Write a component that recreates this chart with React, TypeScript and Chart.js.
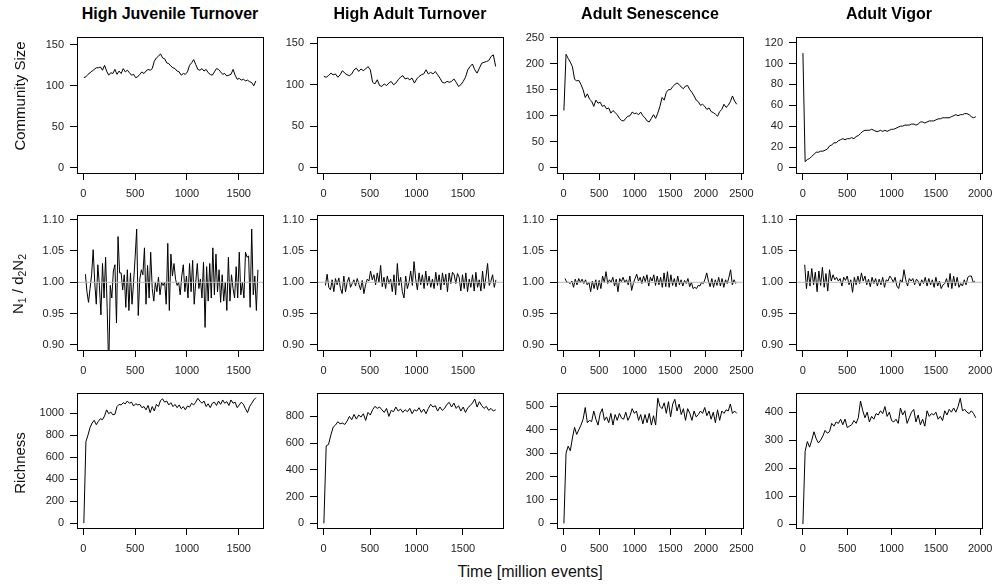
import React, { useEffect, useRef } from "react";
import { Chart, registerables } from "chart.js";
Chart.register(...registerables);

const FONT = '"Liberation Sans", Arial, Helvetica, sans-serif';
Chart.defaults.font.family = FONT;

// ---------- labels ----------
const colTitles = ["High Juvenile Turnover", "High Adult Turnover", "Adult Senescence", "Adult Vigor"];
const xAxisTitle = "Time [million events]";

// ---------- tick values ----------
const xTicksA = [0, 500, 1000, 1500];
const xTicksSen = [0, 500, 1000, 1500, 2000, 2500];
const xTicksVig = [0, 500, 1000, 1500, 2000];
const yTicksSize = [0, 50, 100, 150];
const yTicksSizeSen = [0, 50, 100, 150, 200, 250];
const yTicksSizeVig = [0, 20, 40, 60, 80, 100, 120];
const yTicksRatio = [0.9, 0.95, 1.0, 1.05, 1.1];
const yTicksRichHJT = [0, 200, 400, 600, 800, 1000];
const yTicksRichHAT = [0, 200, 400, 600, 800];
const yTicksRichSen = [0, 100, 200, 300, 400, 500];
const yTicksRichVig = [0, 100, 200, 300, 400];

// ---------- time sampling (start, step) ----------
const timeHJT = { start: 5, step: 20 };
const timeHAT = { start: 3, step: 25 };
const timeSen = { start: 4, step: 30 };
const timeVig = { start: 0, step: 25 };
const timeRatioHJT = { start: 20, step: 15 };
const timeRatioHAT = { start: 20, step: 18 };
const timeRatioSen = { start: 20, step: 24 };
const timeRatioVig = { start: 20, step: 20 };

// ---------- Community size ----------
const sizeHJT = [110, 111, 114, 116, 118, 120, 122, 122, 123, 119, 125, 118, 113, 116, 115, 120, 114, 118, 115, 121,
  117, 119, 116, 113, 114, 110, 111, 114, 117, 115, 118, 120, 119, 121, 130, 134, 136, 139, 134, 133,
  128, 127, 124, 122, 121, 118, 117, 113, 115, 114, 117, 125, 128, 132, 126, 120, 119, 121, 118, 120,
  116, 114, 113, 117, 121, 120, 117, 114, 115, 112, 113, 114, 120, 113, 108, 109, 107, 108, 106, 107,
  105, 104, 100, 106];
const sizeHAT = [110, 109, 111, 114, 112, 113, 109, 112, 117, 114, 112, 111, 113, 118, 120, 116, 119, 117, 119, 122,
  118, 103, 101, 106, 99, 98, 101, 99, 102, 104, 100, 102, 106, 109, 111, 107, 108, 106, 108, 102,
  107, 110, 112, 113, 118, 113, 115, 113, 116, 112, 108, 103, 102, 104, 103, 104, 107, 103, 98, 100,
  104, 109, 118, 122, 125, 118, 114, 120, 126, 127, 128, 129, 134, 136, 122];
const sizeSen = [110, 218, 210, 203, 194, 170, 167, 168, 160, 150, 135, 142, 132, 128, 118, 130, 124, 126, 118, 120,
  113, 115, 105, 110, 106, 102, 95, 91, 90, 95, 99, 100, 107, 104, 105, 102, 107, 100, 96, 90,
  88, 95, 102, 95, 105, 118, 135, 130, 145, 150, 150, 156, 160, 163, 160, 155, 152, 157, 158, 150,
  145, 138, 130, 127, 120, 122, 118, 112, 115, 108, 106, 103, 99, 108, 112, 122, 116, 120, 127, 138,
  128, 122];
const sizeVig = [110, 6, 8, 9, 11, 13, 15, 15, 16, 16, 17, 18, 21, 22, 24, 24, 26, 27, 28, 27,
  28, 28, 29, 28, 30, 31, 33, 35, 36, 36, 36, 37, 36, 35, 35, 36, 35, 36, 35, 36,
  37, 37, 38, 39, 40, 40, 41, 41, 41, 42, 42, 41, 42, 44, 44, 43, 44, 45, 45, 45,
  46, 47, 47, 48, 48, 48, 48, 49, 50, 51, 50, 51, 51, 52, 52, 51, 49, 48, 49];

// ---------- N1 / d2N2 ----------
const ratioHJT = [1.013, 0.985, 0.968, 0.990, 1.012, 1.052, 1.000, 0.965, 1.028, 0.995,
  0.948, 1.030, 0.975, 1.040, 0.960, 0.860, 0.995, 0.975, 1.018, 1.028,
  0.935, 1.073, 1.015, 1.015, 0.988, 1.012, 0.960, 1.020, 0.955, 1.015,
  0.965, 1.000, 1.040, 1.085, 0.947, 1.005, 1.020, 1.012, 1.055, 0.965,
  1.027, 0.975, 1.048, 0.990, 0.970, 1.000, 0.985, 1.008, 0.980, 1.000,
  0.995, 1.000, 0.965, 1.062, 0.955, 1.045, 1.010, 1.030, 1.005, 0.995,
  1.000, 0.980, 1.010, 1.028, 0.985, 1.010, 0.975, 1.030, 0.985, 1.035,
  0.965, 1.000, 1.030, 0.990, 1.005, 0.975, 1.032, 0.928, 1.025, 0.970,
  1.030, 0.975, 1.055, 0.980, 1.045, 0.985, 1.020, 0.968, 1.012, 0.970,
  1.000, 0.955, 1.040, 0.970, 1.012, 0.990, 0.975, 1.025, 0.975, 1.048,
  0.980, 1.000, 0.975, 1.048, 1.040, 1.042, 0.960, 1.085, 0.980, 1.010,
  0.955, 1.020];
const ratioHAT = [0.995, 1.013, 0.992, 0.988, 1.004, 0.985, 1.006, 0.996, 1.007, 0.990,
  0.982, 1.010, 0.985, 1.000, 1.008, 0.992, 0.998, 1.004, 0.994, 1.006,
  0.997, 0.988, 1.003, 0.982, 0.996, 1.005, 1.002, 1.018, 1.004, 1.012,
  0.996, 1.015, 1.000, 1.027, 0.993, 1.008, 0.990, 1.010, 0.998, 1.005,
  0.985, 1.012, 0.980, 1.030, 0.995, 1.008, 0.985, 0.975, 1.010, 0.990,
  1.000, 1.018, 0.995, 1.033, 1.005, 0.988, 1.015, 0.996, 1.012, 0.990,
  1.018, 0.995, 1.010, 0.992, 1.005, 0.990, 1.016, 0.995, 1.012, 0.988,
  1.015, 0.996, 1.013, 0.985, 1.015, 0.998, 1.016, 1.012, 0.998, 1.014,
  1.008, 0.986, 1.012, 0.990, 1.015, 0.985, 1.005, 0.992, 1.012, 0.986,
  1.016, 0.992, 1.004, 0.986, 1.018, 0.990, 1.008, 1.030, 0.995, 1.002,
  1.012, 0.992, 1.004];
const ratioSen = [1.006, 1.000, 1.000, 0.998, 1.002, 0.992, 1.005, 0.996, 1.006, 1.000,
  1.005, 0.998, 1.004, 0.996, 1.000, 0.985, 1.002, 0.990, 1.004, 0.988,
  1.003, 0.990, 1.010, 1.000, 1.017, 0.998, 1.004, 1.000, 1.008, 0.994,
  1.005, 0.985, 1.006, 1.001, 1.008, 1.000, 1.004, 0.996, 1.010, 0.987,
  0.998, 1.006, 1.013, 1.002, 1.008, 0.998, 1.010, 1.001, 1.012, 0.994,
  1.008, 1.002, 1.012, 0.995, 1.010, 0.996, 1.008, 0.992, 1.015, 0.993,
  1.017, 0.992, 1.012, 0.995, 1.006, 0.993, 1.010, 0.996, 1.004, 0.994,
  1.003, 0.998, 1.006, 0.993, 1.000, 0.990, 0.992, 0.990, 0.995, 0.994,
  1.000, 0.998, 1.005, 1.015, 1.002, 0.993, 1.006, 0.992, 1.004, 0.995,
  1.008, 0.994, 1.006, 0.992, 1.004, 0.998, 1.008, 1.020, 0.996, 1.004,
  0.998];
const ratioVig = [1.028, 0.990, 1.018, 0.994, 1.022, 0.996, 1.016, 0.985, 1.018, 0.995,
  1.024, 0.992, 1.014, 0.986, 1.020, 1.002, 1.012, 1.004, 1.008, 1.002,
  1.006, 0.994, 1.008, 1.003, 1.010, 0.996, 1.004, 0.984, 1.008, 0.996,
  1.010, 0.998, 1.015, 1.002, 1.010, 0.996, 1.005, 0.993, 1.008, 0.998,
  1.006, 0.994, 1.005, 0.996, 1.008, 0.992, 1.004, 1.002, 1.010, 1.006,
  1.000, 1.008, 0.994, 0.990, 1.004, 1.000, 1.020, 1.004, 0.994, 1.006,
  1.002, 1.006, 0.996, 1.005, 1.002, 0.994, 1.004, 0.998, 1.008, 0.994,
  1.006, 0.996, 1.004, 0.992, 1.008, 0.994, 1.002, 0.990, 0.996, 0.998,
  1.006, 0.992, 1.014, 0.990, 1.010, 0.994, 1.008, 0.992, 0.998, 0.994,
  1.004, 0.996, 1.008, 1.010, 1.010, 1.000, 1.002];

// ---------- Richness ----------
const richHJT = [0, 740, 800, 870, 910, 935, 895, 925, 950, 940, 975, 1030, 995, 1010, 985, 990, 1060, 1080, 1075, 1095,
  1085, 1110, 1090, 1100, 1065, 1085, 1075, 1080, 1050, 1060, 1030, 1070, 1005, 1060, 1020, 1080, 1060, 1115, 1130, 1100,
  1110, 1075, 1095, 1060, 1080, 1050, 1075, 1040, 1060, 1030, 1065, 1055, 1090, 1075, 1100, 1135, 1110, 1090, 1110, 1060,
  1085, 1050, 1090, 1100, 1070, 1110, 1080, 1120, 1090, 1105, 1070, 1120, 1090, 1100, 1050, 1075, 1100, 1080, 1040, 1005,
  1060, 1090, 1120, 1140];
const richHAT = [0, 580, 590, 660, 720, 735, 760, 745, 750, 740, 765, 800, 775, 815, 780, 810, 795, 820, 770, 830,
  810, 850, 875, 860, 870, 850, 830, 860, 800, 845, 835, 870, 840, 855, 830, 850, 835, 860, 820, 850,
  840, 865, 830, 855, 820, 860, 890, 870, 880, 840, 870, 845, 860, 890, 905, 870, 900, 860, 880, 840,
  870, 830, 865, 880, 900, 930, 870, 910, 880, 860, 875, 845, 860, 840, 850];
const richSen = [0, 300, 330, 310, 365, 410, 380, 400, 420, 445, 495, 430, 440, 435, 480, 445, 420, 470, 490, 440,
  455, 430, 470, 420, 465, 440, 470, 450, 445, 475, 440, 460, 490, 470, 480, 440, 465, 425, 465, 430,
  470, 420, 460, 420, 535, 500, 490, 515, 470, 520, 455, 510, 530, 480, 510, 465, 490, 440, 490, 470,
  440, 480, 455, 465, 480, 470, 495, 460, 480, 445, 475, 430, 485, 440, 480, 470, 485, 480, 510, 470,
  480, 470];
const richVig = [0, 260, 295, 275, 300, 330, 305, 290, 300, 315, 335, 325, 330, 360, 350, 365, 360, 375, 355, 375,
  345, 350, 355, 370, 360, 380, 440, 405, 380, 400, 365, 385, 375, 395, 390, 405, 395, 420, 385, 400,
  370, 365, 375, 360, 415, 390, 405, 360, 380, 400, 410, 365, 390, 355, 375, 350, 405, 385, 395, 390,
  400, 375, 385, 370, 405, 390, 410, 400, 415, 400, 420, 450, 405, 410, 400, 395, 405, 395, 380];

// ---------- panel specs ----------
type Spec = {
  values: number[]; time: { start: number; step: number };
  xMin: number; xMax: number; xTicks: number[];
  yMin: number; yMax: number; yTicks: number[]; decimals: number; ref?: number;
};

const xrA = { xMin: -61, xMax: 1734 };
const xrB = { xMin: -71, xMax: 1932 };
const xrC = { xMin: -93, xMax: 2522 };
const xrD = { xMin: -78, xMax: 2020 };
const ratioRange = { yMin: 0.892, yMax: 1.108, yTicks: yTicksRatio, decimals: 2, ref: 1 };

const rows: Spec[][] = [
  [
    { values: sizeHJT, time: timeHJT, ...xrA, xTicks: xTicksA, yMin: -6.2, yMax: 160, yTicks: yTicksSize, decimals: 0 },
    { values: sizeHAT, time: timeHAT, ...xrB, xTicks: xTicksA, yMin: -6.3, yMax: 158, yTicks: yTicksSize, decimals: 0 },
    { values: sizeSen, time: timeSen, ...xrC, xTicks: xTicksSen, yMin: -10, yMax: 252, yTicks: yTicksSizeSen, decimals: 0 },
    { values: sizeVig, time: timeVig, ...xrD, xTicks: xTicksVig, yMin: -4.9, yMax: 125.8, yTicks: yTicksSizeVig, decimals: 0 },
  ],
  [
    { values: ratioHJT, time: timeRatioHJT, ...xrA, xTicks: xTicksA, ...ratioRange },
    { values: ratioHAT, time: timeRatioHAT, ...xrB, xTicks: xTicksA, ...ratioRange },
    { values: ratioSen, time: timeRatioSen, ...xrC, xTicks: xTicksSen, ...ratioRange },
    { values: ratioVig, time: timeRatioVig, ...xrD, xTicks: xTicksVig, ...ratioRange },
  ],
  [
    { values: richHJT, time: timeHJT, ...xrA, xTicks: xTicksA, yMin: -45, yMax: 1187, yTicks: yTicksRichHJT, decimals: 0 },
    { values: richHAT, time: timeHAT, ...xrB, xTicks: xTicksA, yMin: -34.5, yMax: 978, yTicks: yTicksRichHAT, decimals: 0 },
    { values: richSen, time: timeSen, ...xrC, xTicks: xTicksSen, yMin: -19.7, yMax: 558.7, yTicks: yTicksRichSen, decimals: 0 },
    { values: richVig, time: timeVig, ...xrD, xTicks: xTicksVig, yMin: -14, yMax: 470, yTicks: yTicksRichVig, decimals: 0 },
  ],
];

// ---------- layout ----------
const COL_LEFT = [77, 317, 557, 796];
const ROW_TOP = [34, 212, 390];
const BOX_W = 186;
const BOX_H = [139, 138, 138];
const LABEL_CY = [96, 284, 463];
const PAD_L = 60, PAD_T = 10, PAD_R = 30, PAD_B = 34;

function Panel({ spec, left, top, h }: { spec: Spec; left: number; top: number; h: number }) {
  const ref = useRef<HTMLCanvasElement>(null);
  useEffect(() => {
    const canvas = ref.current!;
    const pts = spec.values.map((v, i) => ({ x: spec.time.start + i * spec.time.step, y: v }));
    const datasets: any[] = [];
    if (spec.ref !== undefined) {
      datasets.push({
        data: [{ x: spec.xMin, y: spec.ref }, { x: spec.xMax, y: spec.ref }],
        borderColor: "#b8b8b8", borderWidth: 1, pointRadius: 0,
      });
    }
    datasets.push({ data: pts, borderColor: "#000", borderWidth: 1, pointRadius: 0, tension: 0 });
    const boxPlugin = {
      id: "box",
      afterDraw(chart: any) {
        const { ctx, chartArea: a } = chart;
        ctx.save();
        ctx.strokeStyle = "#000";
        ctx.lineWidth = 1;
        ctx.strokeRect(Math.round(a.left) + 0.5, Math.round(a.top) + 0.5, Math.round(a.right - a.left), Math.round(a.bottom - a.top));
        ctx.restore();
      },
    };
    const tickFont = { family: FONT, size: 11 };
    const chart = new Chart(canvas, {
      type: "line",
      data: { datasets },
      plugins: [boxPlugin],
      options: {
        animation: false,
        responsive: false,
        devicePixelRatio: 1,
        layout: { padding: { left: 0, top: PAD_T, right: PAD_R, bottom: 0 } },
        plugins: { legend: { display: false }, tooltip: { enabled: false } },
        scales: {
          x: {
            type: "linear",
            min: spec.xMin,
            max: spec.xMax,
            afterFit(s: any) { s.height = PAD_B; },
            afterBuildTicks(s: any) { s.ticks = spec.xTicks.map((v) => ({ value: v })); },
            grid: { display: true, drawOnChartArea: false, drawTicks: true, tickLength: 7, color: "#000", lineWidth: 1 },
            border: { display: false },
            ticks: { padding: 7, color: "#222", font: tickFont, maxRotation: 0, autoSkip: false, callback: (v: any) => String(v) },
          },
          y: {
            type: "linear",
            min: spec.yMin,
            max: spec.yMax,
            afterFit(s: any) { s.width = PAD_L; },
            afterBuildTicks(s: any) { s.ticks = spec.yTicks.map((v) => ({ value: v })); },
            grid: { display: true, drawOnChartArea: false, drawTicks: true, tickLength: 7, color: "#000", lineWidth: 1 },
            border: { display: false },
            ticks: { padding: 6, color: "#222", font: tickFont, autoSkip: false, callback: (v: any) => Number(v).toFixed(spec.decimals) },
          },
        },
      } as any,
    });
    return () => chart.destroy();
  }, [spec]);
  const w = PAD_L + BOX_W + PAD_R;
  const hh = PAD_T + h + PAD_B;
  return (
    <canvas
      ref={ref}
      width={w}
      height={hh}
      style={{ position: "absolute", left: left - PAD_L, top: top - PAD_T, width: w, height: hh }}
    />
  );
}

export default function App() {
  const labelStyle: React.CSSProperties = {
    position: "absolute", fontFamily: FONT, fontSize: 15, lineHeight: "16px", color: "#111",
    whiteSpace: "nowrap", transform: "translate(-50%, -50%) rotate(-90deg)", left: 20,
  };
  const sub: React.CSSProperties = { fontSize: "0.7em", verticalAlign: "-0.25em" };
  return (
    <div style={{ position: "absolute", left: 0, top: 0, width: 995, height: 586, background: "#fff", overflow: "hidden" }}>
      {rows.map((row, r) =>
        row.map((spec, c) => (
          <Panel key={`${r}-${c}`} spec={spec} left={COL_LEFT[c]} top={ROW_TOP[r]} h={BOX_H[r]} />
        ))
      )}
      {colTitles.map((t, c) => (
        <div key={t} style={{
          position: "absolute", left: COL_LEFT[c] + BOX_W / 2, top: 6, transform: "translateX(-50%)",
          fontFamily: FONT, fontWeight: "bold", fontSize: 16, lineHeight: "16px", whiteSpace: "nowrap", color: "#000",
        }}>{t}</div>
      ))}
      <div style={{ ...labelStyle, top: LABEL_CY[0] }}>Community Size</div>
      <div style={{ ...labelStyle, top: LABEL_CY[1] }}>
        N<span style={sub}>1</span> / d<span style={sub}>2</span>N<span style={sub}>2</span>
      </div>
      <div style={{ ...labelStyle, top: LABEL_CY[2] }}>Richness</div>
      <div style={{
        position: "absolute", left: 530, top: 564, transform: "translateX(-50%)",
        fontFamily: FONT, fontSize: 16, lineHeight: "16px", whiteSpace: "nowrap", color: "#111",
      }}>{xAxisTitle}</div>
    </div>
  );
}
